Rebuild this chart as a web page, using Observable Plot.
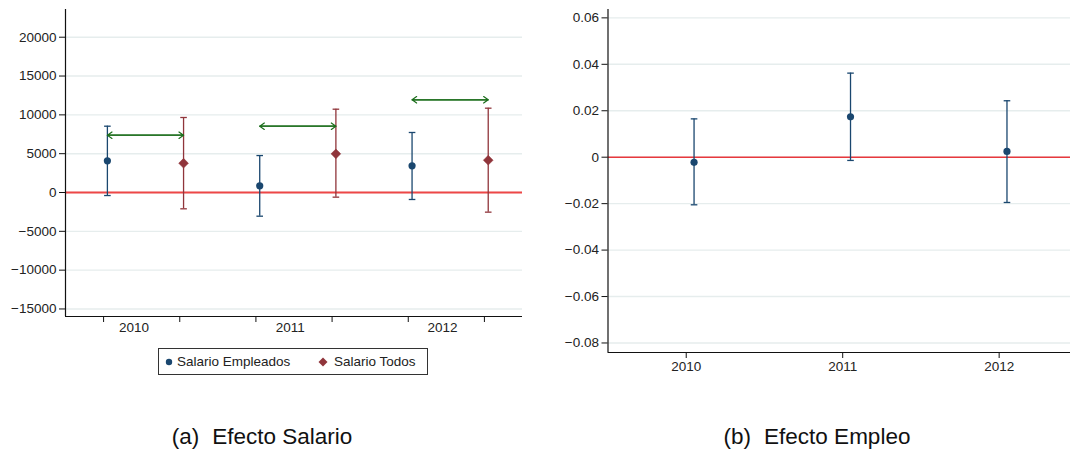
<!DOCTYPE html>
<html>
<head>
<meta charset="utf-8">
<script src="https://cdn.jsdelivr.net/npm/d3@7"></script>
<script src="https://cdn.jsdelivr.net/npm/@observablehq/plot@0.6"></script>
<style>
  html, body { margin: 0; padding: 0; background: #fff; overflow: hidden; }
  #fig { position: relative; width: 1070px; height: 457px; font-family: "Liberation Sans", Arial, sans-serif; color: #222; }
  .panel { position: absolute; top: 0; }
  .caption { position: absolute; top: 424px; font-size: 22.5px; white-space: nowrap; transform: translateX(-50%); color: #111; }
  .caption span { margin-left: 13px; }
  #legend { position: absolute; left: 158px; top: 348px; width: 268px; height: 25px; border: 1px solid #333; box-sizing: content-box; font-size: 13.5px; }
  #legend .item { position: absolute; top: 5px; white-space: nowrap; }
  #legend svg { position: absolute; }
</style>
</head>
<body>
<div id="fig">
  <div id="left" class="panel" style="left:0px"></div>
  <div id="right" class="panel" style="left:540px"></div>
  <div id="legend"></div>
  <div class="caption" style="left:262px">(a)<span>Efecto Salario</span></div>
  <div class="caption" style="left:817px">(b)<span>Efecto Empleo</span></div>
</div>
<script>
// Years of the estimates
const years = [2010, 2011, 2012];
const yearLabels = ["2010", "2011", "2012"];

// Wage effect: employed-only sample
const empleadosEst = [4080, 860, 3430];
const empleadosLo = [-390, -3050, -900];
const empleadosHi = [8540, 4760, 7730];

// Wage effect: full sample
const todosEst = [3770, 4980, 4160];
const todosLo = [-2100, -600, -2530];
const todosHi = [9660, 10730, 10860];

// Height of the double arrow linking both estimates of each year
const arrowY = [7380, 8540, 11940];

// Employment effect
const empleoEst = [-0.0022, 0.0174, 0.0025];
const empleoLo = [-0.0205, -0.0014, -0.0195];
const empleoHi = [0.0165, 0.0362, 0.0243];

// Axis ticks
const salarioTicks = [-15000, -10000, -5000, 0, 5000, 10000, 15000, 20000];
const empleoTicks = [-0.08, -0.06, -0.04, -0.02, 0, 0.02, 0.04, 0.06];

const navy = "#1a476f";
const maroon = "#90353b";
const green = "#1c6e1c";
const gridColor = "#e6eded";
const minus = s => s.replace("-", "\u2212");

// Horizontal cap drawn at the ends of each confidence interval
const cap = {
  draw(ctx, size) {
    const w = Math.sqrt(size / Math.PI);
    ctx.moveTo(-w, 0);
    ctx.lineTo(w, 0);
  }
};

// Each year occupies two slots on the wage panel: employed, then everyone
const salario = years.flatMap((y, i) => [
  {year: y, slot: 2 * i + 1, pos: 2 * i + 1.05, est: empleadosEst[i], lo: empleadosLo[i], hi: empleadosHi[i], serie: "Salario Empleados"},
  {year: y, slot: 2 * i + 2, pos: 2 * i + 2.05, est: todosEst[i], lo: todosLo[i], hi: todosHi[i], serie: "Salario Todos"}
]);
const flechas = years.map((y, i) => ({x1: 2 * i + 1.05, x2: 2 * i + 2.05, y: arrowY[i]}));
const ySalario = [-15970, 23570];

const serieColor = d => d.serie === "Salario Empleados" ? navy : maroon;

const left = Plot.plot({
  width: 540,
  height: 342,
  marginLeft: 65,
  marginRight: 18,
  marginTop: 9,
  marginBottom: 26,
  style: {fontSize: "13.5px", fontFamily: "Liberation Sans, Arial, sans-serif", color: "#222", background: "#fff"},
  x: {domain: [0.5, 6.5], label: null},
  y: {domain: ySalario, label: null},
  marks: [
    Plot.gridY(salarioTicks, {stroke: gridColor, strokeOpacity: 1, strokeWidth: 1.4}),
    Plot.ruleY([0], {stroke: "#ee4747", strokeWidth: 2}),
    Plot.ruleX(salario, {x: "pos", y1: "lo", y2: "hi", stroke: serieColor, strokeWidth: 1.3}),
    Plot.dot(salario, {x: "pos", y: "lo", symbol: cap, r: 3.3, fill: "none", stroke: serieColor, strokeWidth: 1.3}),
    Plot.dot(salario, {x: "pos", y: "hi", symbol: cap, r: 3.3, fill: "none", stroke: serieColor, strokeWidth: 1.3}),
    Plot.dot(salario.filter(d => d.serie === "Salario Empleados"), {x: "pos", y: "est", r: 3.6, fill: navy, stroke: "none"}),
    Plot.dot(salario.filter(d => d.serie === "Salario Todos"), {x: "pos", y: "est", symbol: "diamond2", r: 4.4, fill: maroon, stroke: maroon, strokeWidth: 0.5}),
    Plot.arrow(flechas, {x1: "x1", x2: "x2", y1: "y", y2: "y", bend: 0, stroke: green, strokeWidth: 1.2, headLength: 7, headAngle: 70, inset: 0}),
    Plot.arrow(flechas, {x1: "x2", x2: "x1", y1: "y", y2: "y", bend: 0, stroke: green, strokeWidth: 1.2, headLength: 7, headAngle: 70, inset: 0}),
    Plot.axisY(salarioTicks, {tickSize: 6, tickPadding: 3, tickFormat: d => minus(String(d)), stroke: "#111", label: null}),
    Plot.axisX({ticks: [1, 2, 3, 4, 5, 6], tickSize: 6, tickFormat: () => "", stroke: "#111", label: null}),
    Plot.axisX({ticks: [1.4, 3.45, 5.45], tickSize: 0, tickPadding: 6, tickFormat: (d, i) => yearLabels[i], label: null}),
    Plot.ruleX([0.5], {stroke: "#111", strokeWidth: 1.2}),
    Plot.ruleY([ySalario[0]], {stroke: "#111", strokeWidth: 1.2})
  ]
});
document.getElementById("left").appendChild(left);

const empleo = years.map((y, i) => ({year: y, pos: y + 0.05, est: empleoEst[i], lo: empleoLo[i], hi: empleoHi[i]}));
const yEmpleo = [-0.0841, 0.0636];
const fmtEmpleo = d => d === 0 ? "0" : minus(d.toFixed(2));

const right = Plot.plot({
  width: 530,
  height: 374,
  marginLeft: 67.5,
  marginRight: 0,
  marginTop: 9,
  marginBottom: 22,
  style: {fontSize: "13.5px", fontFamily: "Liberation Sans, Arial, sans-serif", color: "#222", background: "#fff"},
  x: {domain: [2009.5, 2012.456], label: null},
  y: {domain: yEmpleo, label: null},
  marks: [
    Plot.gridY(empleoTicks, {stroke: gridColor, strokeOpacity: 1, strokeWidth: 1.4}),
    Plot.ruleY([0], {stroke: "#e8383d", strokeWidth: 1.5}),
    Plot.ruleX(empleo, {x: "pos", y1: "lo", y2: "hi", stroke: navy, strokeWidth: 1.3}),
    Plot.dot(empleo, {x: "pos", y: "lo", symbol: cap, r: 3.3, fill: "none", stroke: navy, strokeWidth: 1.3}),
    Plot.dot(empleo, {x: "pos", y: "hi", symbol: cap, r: 3.3, fill: "none", stroke: navy, strokeWidth: 1.3}),
    Plot.dot(empleo, {x: "pos", y: "est", r: 3.6, fill: navy, stroke: "none"}),
    Plot.axisY(empleoTicks, {tickSize: 6, tickPadding: 3, tickFormat: fmtEmpleo, stroke: "#111", label: null}),
    Plot.axisX(years, {tickSize: 6, tickPadding: 3, tickFormat: d => String(d), stroke: "#111", label: null}),
    Plot.ruleX([2009.5], {stroke: "#111", strokeWidth: 1.2}),
    Plot.ruleY([yEmpleo[0]], {stroke: "#111", strokeWidth: 1.2})
  ]
});
document.getElementById("right").appendChild(right);

// Legend for the wage panel
const legend = document.getElementById("legend");
legend.innerHTML = `
  <svg style="left:5px;top:8px" width="10" height="10"><circle cx="5" cy="5" r="3.2" fill="${navy}"/></svg>
  <div class="item" style="left:18px">Salario Empleados</div>
  <svg style="left:158px;top:7px" width="12" height="12"><path d="M6,1.5L10.5,6L6,10.5L1.5,6Z" fill="${maroon}"/></svg>
  <div class="item" style="left:175px">Salario Todos</div>
`;
</script>
</body>
</html>
